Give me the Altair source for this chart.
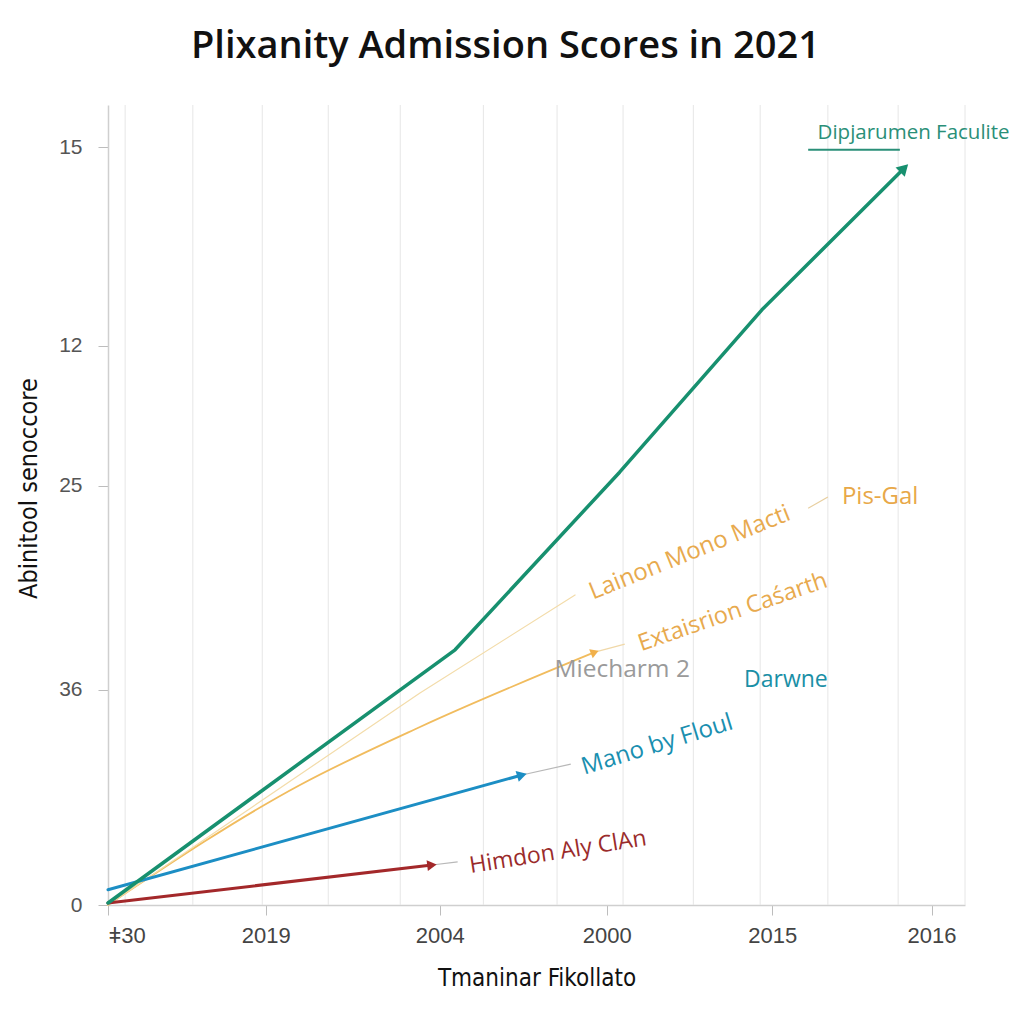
import altair as alt
import pandas as pd

# ---------------- data ----------------
title_text = "Plixanity Admission Scores in 2021"
x_title = "Tmaninar Fikollato"
y_title = "Abinitool senoccore"

x_tick_pos = [0, 18.4, 38.7, 58.2, 77.5, 96.1]
x_tick_labels = ["ǂ30", "2019", "2004", "2000", "2015", "2016"]
y_tick_pos = [0, 26.9, 52.4, 69.9, 94.75]
y_tick_labels = ["0", "36", "25", "12", "15"]
grid_x = [2.0, 9.9, 18.0, 25.7, 34.1, 43.8, 52.4, 60.1, 68.3, 76.1, 84.0, 92.2, 100]

series_names = ["pale", "orange", "blue", "red", "green"]
series_colors = ["#f3dcaa", "#f1bc5e", "#1c8ec4", "#a3282a", "#17906f"]
series_widths = [1.2, 1.8, 3.0, 3.0, 3.5]
series_curved = [False, True, False, False, False]
pale_x = [0, 36.4, 54.5]
pale_y = [0, 26.5, 38.75]
orange_x = [0, 22.4, 36.4, 56.8]
orange_y = [0, 15.0, 22.25, 31.6]
blue_x = [0, 48.3]
blue_y = [1.9, 16.25]
red_x = [0, 37.8]
red_y = [0.25, 5.0]
green_x = [0, 40.5, 59.7, 76.3, 92.9]
green_y = [0.25, 31.9, 54.1, 74.4, 92.1]

arrow_x = [92.9, 48.3, 37.8, 56.8]
arrow_y = [92.1, 16.25, 5.0, 31.6]
arrow_angle = [315, 344, 353, 338]
arrow_color = ["#17906f", "#1c8ec4", "#a3282a", "#f1b04a"]
arrow_size = [170, 130, 120, 90]

leader_x = [48.3, 37.8, 56.8, 81.7]
leader_x2 = [54.0, 40.8, 60.3, 84.0]
leader_y = [16.25, 5.0, 31.6, 49.6]
leader_y2 = [17.6, 5.4, 32.6, 51.0]
leader_color = ["#b8b8b8", "#b8b8b8", "#f0d8a8", "#e8cfa0"]

underline_x = [81.7]
underline_x2 = [92.4]
underline_y = [94.4]

label_text = ["Dipjarumen Faculite", "Pis-Gal", "Lainon Mono Macti", "Extaisrion Caśarth",
              "Miecharm 2", "Darwne", "Mano by Floul", "Himdon Aly ClAn"]
label_x = [94.0, 90.1, 67.9, 72.9, 60.0, 79.1, 64.1, 52.5]
label_y = [96.5, 51.0, 44.0, 36.6, 29.4, 28.1, 20.0, 6.6]
label_angle = [0, 0, 338, 341, 0, 0, 343, 351]
label_color = ["#2a8f78", "#e8a848", "#e8aa4e", "#e8aa4e", "#9a9a9a", "#1a8fa6", "#1a8fb0", "#9a2b2b"]
label_size = [20.5, 24, 24, 23.5, 24.5, 23, 24, 23]

# ---------------- tables ----------------
xs_all = [pale_x, orange_x, blue_x, red_x, green_x]
ys_all = [pale_y, orange_y, blue_y, red_y, green_y]
rows = []
for name, col, w, cv, xs, ys in zip(series_names, series_colors, series_widths, series_curved,
                                    xs_all, ys_all):
    for i, (xv, yv) in enumerate(zip(xs, ys)):
        rows.append({"series": name, "x": xv, "y": yv, "i": i, "color": col, "w": w, "curved": cv})
lines_df = pd.DataFrame(rows)
grid_df = pd.DataFrame({"x": grid_x})
arrow_df = pd.DataFrame({"x": arrow_x, "y": arrow_y, "angle": arrow_angle,
                         "color": arrow_color, "size": arrow_size})
leader_df = pd.DataFrame({"x": leader_x, "x2": leader_x2, "y": leader_y, "y2": leader_y2,
                          "color": leader_color})
under_df = pd.DataFrame({"x": underline_x, "x2": underline_x2, "y": underline_y})
label_df = pd.DataFrame({"text": label_text, "x": label_x, "y": label_y, "angle": label_angle,
                         "color": label_color, "size": label_size})

xscale = alt.Scale(domain=[0, 100], nice=False, zero=False)
yscale = alt.Scale(domain=[0, 100], nice=False, zero=False)

x_label_expr = "[" + ",".join("'" + s + "'" for s in x_tick_labels) + "][indexof([" + \
    ",".join(str(v) for v in x_tick_pos) + "], datum.value)]"
y_label_expr = "[" + ",".join("'" + s + "'" for s in y_tick_labels) + "][indexof([" + \
    ",".join(str(v) for v in y_tick_pos) + "], datum.value)]"

title_font = "DejaVu Sans Condensed, Liberation Sans Narrow, sans-serif"
x_axis = alt.Axis(values=x_tick_pos, labelExpr=x_label_expr, grid=False, title=x_title,
                  domainColor="#cfcfcf", domainWidth=1.5, tickColor="#bdbdbd", tickSize=10,
                  labelPadding=10, labelFontSize=22, labelColor="#444444", labelFont="Liberation Sans",
                  titleFont=title_font, titleFontSize=24, titleFontWeight="normal",
                  titleColor="#111111", titlePadding=20)
y_axis = alt.Axis(values=y_tick_pos, labelExpr=y_label_expr, grid=False, title=y_title,
                  domainColor="#cfcfcf", domainWidth=1.5, tickColor="#bdbdbd", tickSize=10,
                  labelPadding=16, labelFontSize=21, labelColor="#555555", labelFont="Liberation Sans",
                  titleFont=title_font, titleFontSize=25, titleFontWeight="normal",
                  titleColor="#111111", titleAngle=270, titleX=-80, titleY=383,
                  titleAlign="center", titleBaseline="middle")

grid = alt.Chart(grid_df).mark_rule(color="#e6e6e6", strokeWidth=1).encode(
    x=alt.X("x:Q", scale=xscale, axis=x_axis)
)


def line_layer(curved):
    return alt.Chart(lines_df[lines_df["curved"] == curved]).mark_line(
        strokeCap="round", strokeJoin="round",
        interpolate="monotone" if curved else "linear",
    ).encode(
        x=alt.X("x:Q", scale=xscale, axis=x_axis),
        y=alt.Y("y:Q", scale=yscale, axis=y_axis),
        detail="series:N",
        order="i:Q",
        color=alt.Color("color:N", scale=None),
        strokeWidth=alt.StrokeWidth("w:Q", scale=None),
    )


curved_lines = line_layer(True)
straight_lines = line_layer(False)

leaders = alt.Chart(leader_df).mark_rule(strokeWidth=1.2).encode(
    x="x:Q", x2="x2:Q", y="y:Q", y2="y2:Q",
    color=alt.Color("color:N", scale=None),
)

arrows = alt.Chart(arrow_df).mark_point(shape="triangle-right", filled=True, opacity=1).encode(
    x="x:Q", y="y:Q",
    angle=alt.Angle("angle:Q", scale=None),
    color=alt.Color("color:N", scale=None),
    size=alt.Size("size:Q", scale=None),
)

underline = alt.Chart(under_df).mark_rule(color="#2a8f78", strokeWidth=2).encode(
    x="x:Q", x2="x2:Q", y="y:Q"
)

labels = alt.Chart(label_df).mark_text(font="Open Sans", align="center", baseline="middle").encode(
    x="x:Q", y="y:Q", text="text:N",
    angle=alt.Angle("angle:Q", scale=None),
    color=alt.Color("color:N", scale=None),
    size=alt.Size("size:Q", scale=None),
)

chart = alt.layer(grid, curved_lines, straight_lines, leaders, arrows, underline, labels).properties(
    width=857, height=800,
    autosize=alt.AutoSizeParams(type="none"),
    padding={"left": 100, "top": 97, "right": 51, "bottom": 111},
    title=alt.TitleParams(text=title_text, fontSize=38, font="Open Sans", fontWeight=600,
                          color="#111111", anchor="middle", frame="group", dx=-31, offset=39),
    background="#ffffff",
).configure_view(stroke=None)

chart.save("out.html", embed_options={"renderer": "svg", "actions": False})
